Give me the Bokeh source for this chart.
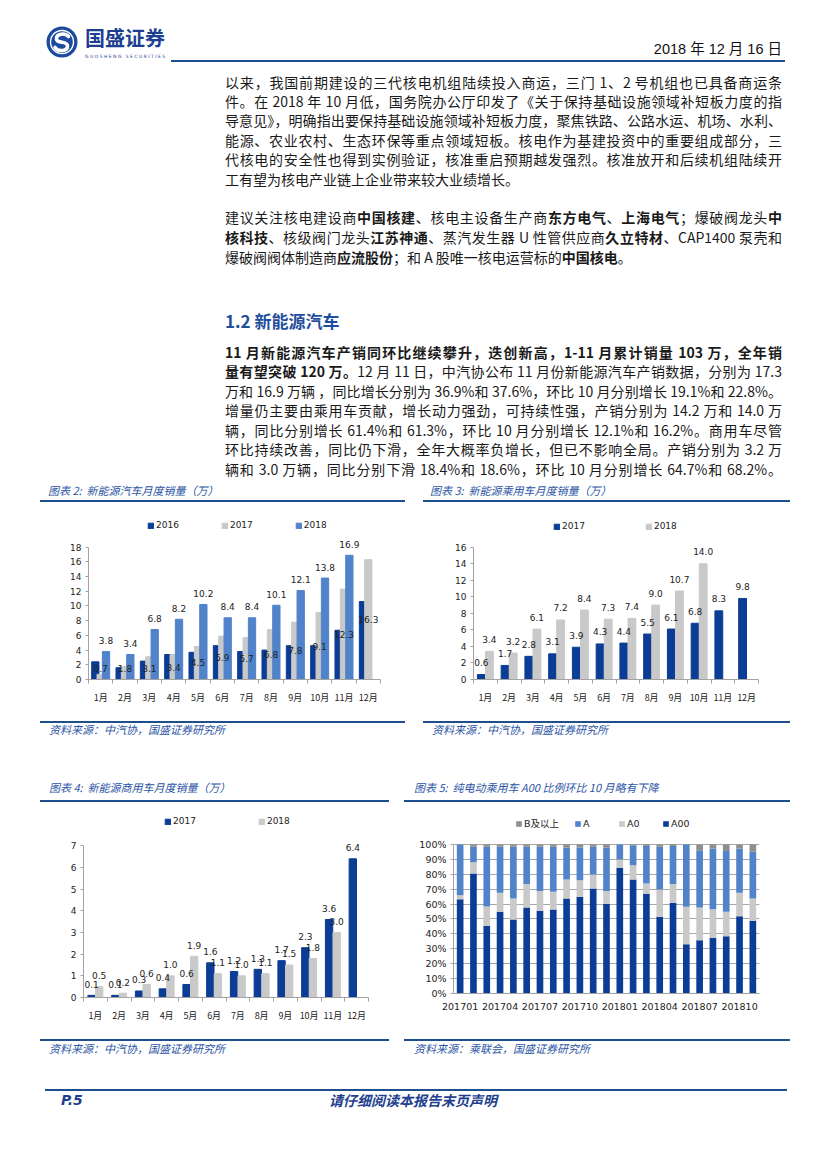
import numpy as np
from bokeh.plotting import figure
from bokeh.models import (Range1d, FixedTicker, Legend, LegendItem, Div, Spacer,
                          ColumnDataSource, PrintfTickFormatter)
from bokeh.layouts import column, row
from bokeh.embed import file_html
from bokeh.resources import INLINE
from bokeh.core.properties import value

# ---------------- data ----------------
months = ["1月", "2月", "3月", "4月", "5月", "6月", "7月", "8月", "9月", "10月", "11月", "12月"]

# 图表2 新能源汽车月度销量（万）
nev_2016 = [2.4, 1.6, 2.5, 3.4, 3.7, 4.6, 3.8, 4.0, 4.6, 4.6, 6.7, 10.6]
nev_2017 = [0.7, 1.8, 3.1, 3.4, 4.5, 5.9, 5.7, 6.8, 7.8, 9.1, 12.3, 16.3]
nev_2018 = [3.8, 3.4, 6.8, 8.2, 10.2, 8.4, 8.4, 10.1, 12.1, 13.8, 16.9]

# 图表3 新能源乘用车月度销量（万）
pv_2017 = [0.6, 1.7, 2.8, 3.1, 3.9, 4.3, 4.4, 5.5, 6.1, 6.8, 8.3, 9.8]
pv_2018 = [3.4, 3.2, 6.1, 7.2, 8.4, 7.3, 7.4, 9.0, 10.7, 14.0]

# 图表4 新能源商用车月度销量（万）
cv_2017 = [0.1, 0.1, 0.3, 0.4, 0.6, 1.6, 1.2, 1.3, 1.7, 2.3, 3.6, 6.4]
cv_2018 = [0.5, 0.2, 0.6, 1.0, 1.9, 1.1, 1.0, 1.1, 1.5, 1.8, 3.0]

# 图表5 纯电动乘用车级别结构（%）
ym = ["201701", "201702", "201703", "201704", "201705", "201706", "201707", "201708",
      "201709", "201710", "201711", "201712", "201801", "201802", "201803", "201804",
      "201805", "201806", "201807", "201808", "201809", "201810", "201811"]
share_a00 = [63.3, 80.5, 45.5, 54.8, 49.7, 57.7, 55.5, 56.4, 63.8, 64.9, 70.5, 60.0,
             84.3, 76.5, 66.7, 51.5, 60.9, 33.1, 35.8, 37.4, 38.5, 51.9, 48.8]
share_a0 = [2.7, 7.6, 12.9, 12.8, 14.1, 15.7, 13.2, 11.8, 12.7, 11.1, 9.4, 8.7,
            5.6, 9.6, 7.1, 18.3, 12.5, 25.1, 21.9, 19.2, 16.3, 15.7, 15.0]
share_a = [34.0, 10.3, 40.0, 30.8, 34.6, 25.0, 29.7, 30.2, 21.5, 22.0, 18.5, 29.1,
           10.1, 13.4, 25.1, 28.6, 25.5, 41.8, 38.5, 40.7, 40.9, 29.7, 31.3]
share_b = [0.0, 1.6, 1.6, 1.6, 1.6, 1.6, 1.6, 1.6, 2.0, 2.0, 1.6, 2.2,
           0.0, 0.5, 1.1, 1.6, 1.1, 0.0, 3.8, 2.7, 4.3, 2.7, 4.9]

# ---------------- styles ----------------
DARK = "#0b3d96"
MID = "#5083ca"
GREY = "#c9c9c9"
BGREY = "#8e8e8e"
AXIS = "#a3a3a3"
NAVY = "#1f4e8c"
TBLUE = "#2c55a5"
NUMFONT = "DejaVu Sans"
CJK = "Noto Sans CJK SC"


def base_fig(w, h, mbl, mbr, mbt, mbb, x0, x1, ymax):
    p = figure(width=w, height=h, x_range=Range1d(x0, x1), y_range=Range1d(0, ymax),
               output_backend="svg", toolbar_location=None, margin=0,
               min_border_left=mbl, min_border_right=mbr,
               min_border_top=mbt, min_border_bottom=mbb)
    p.outline_line_color = None
    p.grid.visible = False
    p.background_fill_color = "white"
    for ax in (p.xaxis[0], p.yaxis[0]):
        ax.axis_line_color = AXIS
        ax.major_tick_line_color = AXIS
        ax.minor_tick_line_color = AXIS
        ax.major_label_text_color = "#222222"
        ax.major_label_text_font_size = "9px"
    p.yaxis.major_label_text_font = NUMFONT
    p.yaxis.major_tick_out = 3
    p.yaxis.major_tick_in = 0
    p.yaxis.minor_tick_out = 0
    p.yaxis.minor_tick_in = 0
    p.yaxis.major_label_standoff = 4
    return p


def month_axis(p, n):
    p.xaxis.ticker = FixedTicker(ticks=list(range(1, n + 1)),
                                 minor_ticks=[i + 0.5 for i in range(0, n + 1)])
    p.xaxis.major_label_overrides = {i + 1: m for i, m in enumerate(months[:n])}
    p.xaxis.major_tick_out = 0
    p.xaxis.major_tick_in = 0
    p.xaxis.minor_tick_out = 4
    p.xaxis.minor_tick_in = 0
    p.xaxis.major_label_standoff = 7
    p.xaxis.major_label_text_font = CJK


def add_labels(p, xs, ys, vals, yoff, color="#222222"):
    p.text(x=list(xs), y=list(ys), text=[f"{v:.1f}" for v in vals],
           text_font=value(NUMFONT), text_font_size=value("9px"),
           text_align="center", text_baseline="middle", y_offset=yoff,
           text_color=color)


def make_legend(items, loc, spacing, font="DejaVu Sans", size="9px"):
    return Legend(items=items, location=loc, orientation="horizontal",
                  spacing=spacing, glyph_width=7, glyph_height=7, label_standoff=2,
                  label_height=10, padding=0, margin=0, border_line_color=None,
                  background_fill_alpha=0, label_text_font_size=size,
                  label_text_font=font, label_text_color="#222222")


# ---------- chart 2 ----------
p2 = base_fig(365, 217, 48, 25, 8, 40, 0.5, 12.5, 22.99)
month_axis(p2, 12)
p2.yaxis.ticker = FixedTicker(ticks=list(range(0, 19, 2)))
p2.yaxis.bounds = (0, 18)
x16 = np.arange(1, len(nev_2016) + 1) - 0.22
x17 = np.arange(1, len(nev_2017) + 1)
x18 = np.arange(1, len(nev_2018) + 1) + 0.22
r16 = p2.vbar(x=x16, top=nev_2016, width=0.3, color=DARK)
r17 = p2.vbar(x=x17, top=nev_2017, width=0.3, color=GREY)
r18 = p2.vbar(x=x18, top=nev_2018, width=0.3, color=MID)
add_labels(p2, x18, nev_2018, nev_2018, -11)
add_labels(p2, x17, [max(v / 2, 1.5) for v in nev_2017], nev_2017, 0)
p2.add_layout(make_legend([LegendItem(label="2016", renderers=[r16]),
                           LegendItem(label="2017", renderers=[r17]),
                           LegendItem(label="2018", renderers=[r18])], (59, 149), 42))

# ---------- chart 3 ----------
p3 = base_fig(367, 217, 50, 32, 8, 40, 0.5, 12.5, 20.44)
month_axis(p3, 12)
p3.yaxis.ticker = FixedTicker(ticks=list(range(0, 17, 2)))
p3.yaxis.bounds = (0, 16)
xa = np.arange(1, len(pv_2017) + 1) - 0.17
xb = np.arange(1, len(pv_2018) + 1) + 0.17
ra = p3.vbar(x=xa, top=pv_2017, width=0.33, color=DARK)
rb = p3.vbar(x=xb, top=pv_2018, width=0.33, color=GREY)
add_labels(p3, xa, pv_2017, pv_2017, -12)
add_labels(p3, xb, pv_2018, pv_2018, -12)
p3.add_layout(make_legend([LegendItem(label="2017", renderers=[ra]),
                           LegendItem(label="2018", renderers=[rb])], (80, 148), 60))

# ---------- chart 4 ----------
p4 = base_fig(349, 236, 43, 21, 8, 41, 0.5, 12.5, 8.63)
month_axis(p4, 12)
p4.yaxis.ticker = FixedTicker(ticks=list(range(0, 8)))
p4.yaxis.bounds = (0, 7)
xc = np.arange(1, len(cv_2017) + 1) - 0.16
xd = np.arange(1, len(cv_2018) + 1) + 0.16
rc = p4.vbar(x=xc, top=cv_2017, width=0.31, color=DARK)
rd = p4.vbar(x=xd, top=cv_2018, width=0.31, color=GREY)
add_labels(p4, xc, cv_2017, cv_2017, -11)
add_labels(p4, xd, cv_2018, cv_2018, -11)
p4.add_layout(make_legend([LegendItem(label="2017", renderers=[rc]),
                           LegendItem(label="2018", renderers=[rd])], (81, 171), 62))

# ---------- chart 5 ----------
n5 = len(ym)
p5 = base_fig(386, 236, 49, 31, 8, 45, -0.5, n5 - 0.5, 122.8)
p5.yaxis.ticker = FixedTicker(ticks=list(range(0, 101, 10)))
p5.yaxis.bounds = (0, 100)
p5.yaxis.formatter = PrintfTickFormatter(format="%d%%")
p5.yaxis.major_label_text_font_size = "9.5px"
p5.ygrid.visible = True
p5.ygrid.grid_line_color = "#a8a8a8"
p5.ygrid.ticker = FixedTicker(ticks=list(range(10, 101, 10)))
p5.xaxis.ticker = FixedTicker(ticks=list(range(0, n5, 3)))
p5.xaxis.major_label_overrides = {k: ym[k] for k in range(0, n5, 3)}
p5.xaxis.major_tick_out = 0
p5.xaxis.major_tick_in = 0
p5.xaxis.major_label_standoff = 9
p5.xaxis.major_label_text_font = NUMFONT
p5.xaxis.major_label_text_font_size = "9.5px"
src5 = ColumnDataSource(dict(x=list(range(n5)), a00=share_a00, a0=share_a0,
                             a=share_a, b=share_b))
rs = p5.vbar_stack(["a00", "a0", "a", "b"], x="x", width=0.5,
                   color=[DARK, GREY, MID, BGREY], line_color=None, source=src5)
p5.add_layout(make_legend([LegendItem(label="B及以上", renderers=[rs[3]]),
                           LegendItem(label="A", renderers=[rs[2]]),
                           LegendItem(label="A0", renderers=[rs[1]]),
                           LegendItem(label="A00", renderers=[rs[0]])], (62, 163), 15,
                          font="DejaVu Sans, Noto Sans CJK SC", size="9.5px"))

# ---------------- text blocks ----------------
TFONT = f"font-family:'{CJK}';font-style:italic;font-size:11px;color:{TBLUE};white-space:nowrap;"


def title_div(text, w, h, left, cy, line_top):
    html = (f'<div style="position:relative;width:{w}px;height:{h}px;">'
            f'<div style="position:absolute;left:{left}px;top:{cy - 7}px;line-height:14px;{TFONT}">{text}</div>'
            f'<div style="position:absolute;left:0;top:{line_top}px;width:{w}px;height:2px;background:{NAVY};"></div>'
            f'</div>')
    return Div(text=html, width=w, height=h, margin=0)


def body_line(content, cy, justify=True, size=14):
    ja = "text-align:justify;text-align-last:justify;" if justify else "text-align:left;"
    return (f'<div style="position:absolute;left:217px;top:{cy - 18:.1f}px;width:557px;height:20px;'
            f'line-height:20px;font-size:{size}px;white-space:nowrap;{ja}">{content}</div>')


para1 = [
    "以来，我国前期建设的三代核电机组陆续投入商运，三门 1、2 号机组也已具备商运条",
    "件。在 2018 年 10 月低，国务院办公厅印发了《关于保持基础设施领域补短板力度的指",
    "导意见》，明确指出要保持基础设施领域补短板力度，聚焦铁路、公路水运、机场、水利、",
    "能源、农业农村、生态环保等重点领域短板。核电作为基建投资中的重要组成部分，三",
    "代核电的安全性也得到实例验证，核准重启预期越发强烈。核准放开和后续机组陆续开",
    "工有望为核电产业链上企业带来较大业绩增长。",
]
para1_y = [81.7, 100.9, 120.2, 139.5, 159.2, 178.6]
para2 = [
    "建议关注核电建设商<b>中国核建</b>、核电主设备生产商<b>东方电气</b>、<b>上海电气</b>；爆破阀龙头<b>中</b>",
    "<b>核科技</b>、核级阀门龙头<b>江苏神通</b>、蒸汽发生器 U 性管供应商<b>久立特材</b>、CAP1400 泵壳和",
    "爆破阀阀体制造商<b>应流股份</b>；和 A 股唯一核电运营标的<b>中国核电</b>。",
]
para2_y = [217.3, 237.1, 256.7]
para3 = [
    "<b>11 月新能源汽车产销同环比继续攀升，迭创新高，1-11 月累计销量 103 万，全年销</b>",
    "<b>量有望突破 120 万。</b>12 月 11 日，中汽协公布 11 月份新能源汽车产销数据，分别为 17.3",
    "万和 16.9 万辆 ，同比增长分别为 36.9%和 37.6%，环比 10 月分别增长 19.1%和 22.8%。",
    "增量仍主要由乘用车贡献，增长动力强劲，可持续性强，产销分别为 14.2 万和 14.0 万",
    "辆，同比分别增长 61.4%和 61.3%，环比 10 月分别增长 12.1%和 16.2%。商用车尽管",
    "环比持续改善，同比仍下滑，全年大概率负增长，但已不影响全局。产销分别为 3.2 万",
    "辆和 3.0 万辆，同比分别下滑 18.4%和 18.6%，环比 10 月分别增长 64.7%和 68.2%。",
]
para3_y = [351.7, 371.2, 390.7, 410.2, 429.8, 449.2, 468.6]

logo_svg = (
    '<svg width="32" height="32" viewBox="0 0 32 32" style="position:absolute;left:38px;top:18px">'
    '<circle cx="16" cy="16" r="15.5" fill="#1b4a9e"/>'
    '<circle cx="16" cy="16" r="11.5" fill="none" stroke="#ffffff" stroke-width="1.4"/>'
    '<path d="M22.5 10.5 C19 6.5 10 7.5 10.5 13 C11 18 21.5 14.5 21.5 20 C21.5 25.5 12 26 9 21.5" '
    'fill="none" stroke="#ffffff" stroke-width="3.6" stroke-linecap="round"/>'
    '</svg>')

top_parts = [f'<div style="position:relative;width:811px;height:472px;font-family:\'{CJK}\';color:#1a1a1a;">',
             logo_svg,
             f'<div style="position:absolute;left:77px;top:20px;line-height:20px;height:20px;font-size:20px;font-weight:bold;color:#1d3f91;white-space:nowrap;">国盛证券</div>',
             '<div style="position:absolute;left:77px;top:46px;line-height:5px;font-size:4.5px;letter-spacing:1.45px;color:#1d3f91;white-space:nowrap;font-family:\'DejaVu Sans\';">GUOSHENG SECURITIES</div>',
             '<div style="position:absolute;left:574px;top:31px;width:200px;line-height:20px;font-size:14.5px;text-align:right;white-space:nowrap;font-family:\'Liberation Sans Narrow\',\'Liberation Sans\',\'Noto Sans CJK SC\';color:#111;">2018 年 12 月 16 日</div>',
             f'<div style="position:absolute;left:163px;top:52px;width:614px;height:2px;background:{NAVY};"></div>']
for i, (t, y) in enumerate(zip(para1, para1_y)):
    top_parts.append(body_line(t, y, justify=(i < len(para1) - 1)))
for i, (t, y) in enumerate(zip(para2, para2_y)):
    top_parts.append(body_line(t, y, justify=(i < len(para2) - 1)))
top_parts.append(f'<div style="position:absolute;left:217px;top:{320.7 - 8 - 12:.1f}px;line-height:24px;font-size:17px;font-weight:bold;color:#1f4e9e;white-space:nowrap;">1.2 新能源汽车</div>')
for t, y in zip(para3, para3_y):
    top_parts.append(body_line(t, y, justify=True))
top_parts.append('</div>')
top_div = Div(text="".join(top_parts), width=811, height=472, margin=0)


def source_div(text, w, h, left, cy, line_top):
    html = (f'<div style="position:relative;width:{w}px;height:{h}px;">'
            f'<div style="position:absolute;left:0;top:{line_top}px;width:{w}px;height:2px;background:{NAVY};"></div>'
            f'<div style="position:absolute;left:{left}px;top:{cy - 7}px;line-height:14px;{TFONT}">{text}</div>'
            f'</div>')
    return Div(text=html, width=w, height=h, margin=0)


sp2 = "&nbsp;&nbsp;"
b2 = column(title_div(f"图表 2:{sp2}新能源汽车月度销量（万）", 365, 22, 8, 10, 20), p2,
            source_div("资料来源：中汽协，国盛证券研究所", 365, 22, 9, 10, 2), spacing=0)
b3 = column(title_div(f"图表 3:{sp2}新能源乘用车月度销量（万）", 367, 22, 7, 10, 20), p3,
            source_div("资料来源：中汽协，国盛证券研究所", 367, 22, 9, 10, 2), spacing=0)
b4 = column(title_div(f"图表 4:{sp2}新能源商用车月度销量（万）", 349, 24, 9, 9, 22), p4,
            source_div("资料来源：中汽协，国盛证券研究所", 349, 22, 9, 10, 1), spacing=0)
b5 = column(title_div(f"图表 5:{sp2}纯电动乘用车 A00 比例环比 10 月略有下降", 386, 24, 10, 9, 22), p5,
            source_div("资料来源：乘联会，国盛证券研究所", 386, 22, 10, 10, 1), spacing=0)

row1 = row(Spacer(width=32, height=261), b2, Spacer(width=18, height=261), b3, spacing=0)
row2 = row(Spacer(width=32, height=282), b4, Spacer(width=15, height=282), b5, spacing=0)

footer_html = (
    '<div style="position:relative;width:811px;height:32px;">'
    f'<div style="position:absolute;left:37px;top:9px;width:742px;height:2px;background:{NAVY};"></div>'
    '<div style="position:absolute;left:53px;top:12px;line-height:16px;font-size:14px;font-weight:bold;font-style:italic;color:#1f3f8f;font-family:\'DejaVu Sans\';white-space:nowrap;">P.5</div>'
    f'<div style="position:absolute;left:305px;width:200px;top:12px;line-height:16px;font-size:14px;font-weight:bold;font-style:italic;color:#1f3f8f;text-align:center;font-family:\'{CJK}\';white-space:nowrap;">请仔细阅读本报告末页声明</div>'
    '</div>')
footer = Div(text=footer_html, width=811, height=32, margin=0)

page = column(Spacer(width=10, height=8), top_div, row1, Spacer(width=10, height=37), row2,
              Spacer(width=10, height=20), footer, spacing=0)
layout = row(Spacer(width=8, height=10), page, spacing=0)

with open("out.html", "w", encoding="utf-8") as f:
    f.write(file_html(layout, INLINE, title="国盛证券 P.5"))
